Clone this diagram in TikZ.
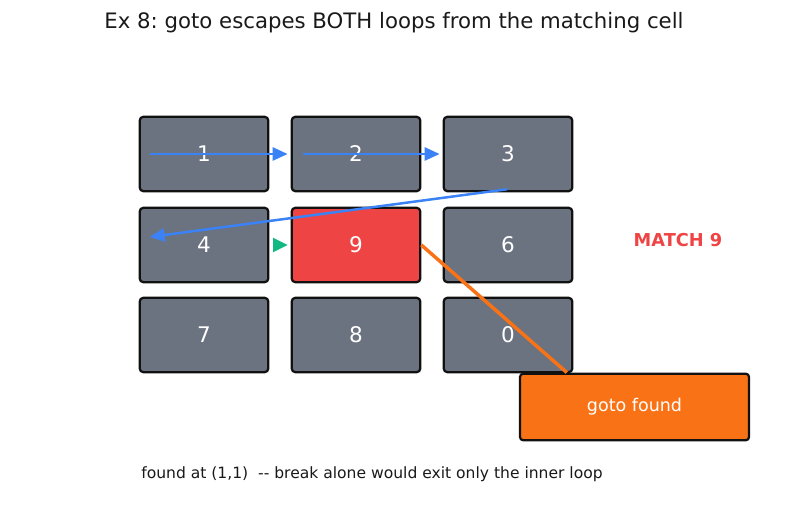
\documentclass[tikz,border=0pt]{standalone}
\usepackage{fontspec}
\setmainfont{DejaVu Sans}
\frenchspacing
\usetikzlibrary{arrows.meta,calc}
\definecolor{cellgray}{HTML}{6B7280}
\definecolor{cellline}{HTML}{111111}
\definecolor{hitred}{HTML}{EF4444}
\definecolor{gotoorange}{HTML}{F97316}
\definecolor{scanblue}{HTML}{3B82F6}
\definecolor{stepgreen}{HTML}{10B981}

\begin{document}
\begin{tikzpicture}[
    x=0.72pt, y=-0.72pt,
    cell/.style={rectangle, draw=cellline, line width=1.6pt, fill=cellgray, rounded corners=2.5pt, minimum width=92.5pt, minimum height=53.5pt, inner sep=0pt, text=white, font=\fontsize{15.5}{17}\selectfont},
    hitcell/.style={cell, fill=hitred},
    gotobox/.style={rectangle, draw=cellline, line width=1.6pt, fill=gotoorange, rounded corners=2.5pt, minimum width=165pt, minimum height=48pt, inner sep=0pt, text=white, font=\fontsize{12.6}{14}\selectfont},
    scan/.style={-{Triangle[length=10.8pt,width=9.4pt]}, scanblue, line width=1.8pt},
    advance/.style={-{Triangle[length=10.5pt,width=10pt]}, stepgreen, line width=1.8pt},
    escape/.style={gotoorange, line width=2.5pt}
  ]
    \useasboundingbox (0,0) rectangle (787,508);

    % Title
    \node[font=\fontsize{15.3}{17}\selectfont, text=black!90] (title) at (394,23) {Ex 8: goto escapes BOTH loops from the matching cell};

    % Row 0
    \node[cell] (c1) at (204,154) {1};
    \node[cell] (c2) at (356,154) {2};
    \node[cell] (c3) at (508,154) {3};

    % Row 1: the match
    \node[cell] (c4) at (204,245) {4};
    \node[hitcell] (c9) at (356,245) {9};
    \node[cell] (c6) at (508,245) {6};

    % Row 2
    \node[cell] (c7) at (204,335) {7};
    \node[cell] (c8) at (356,335) {8};
    \node[cell] (c0) at (508,335) {0};

    % Scan order
    \draw[scan] ($(c1.west)+(11,0)$) -- ($(c2.west)+(-3,0)$);
    \draw[scan] ($(c2.west)+(12,0)$) -- ($(c3.west)+(-3,0)$);
    \draw[scan] ($(c3.south)+(-1,-3)$) -- ($(c4.west)+(11,-8)$);
    \draw[advance] ($(c4.east)+(4,0)$) -- ($(c9.west)+(-3,0)$);

    % Jump out
    \node[gotobox] (goto) at (634.5,407) {goto found};
    \draw[escape] (c9.east) -- ($(goto.north west)+(48,0)$);

    \node[font=\fontsize{12.8}{15}\selectfont\bfseries, text=hitred] (match) at (678,240) {MATCH 9};

    % Footer
    \node[anchor=west, font=\fontsize{11.2}{13}\selectfont, text=black!90, inner sep=0pt] (note) at (141,474) {found at (1,1)\ \ -{}- break alone would exit only the inner loop};
  \end{tikzpicture}
\end{document}
